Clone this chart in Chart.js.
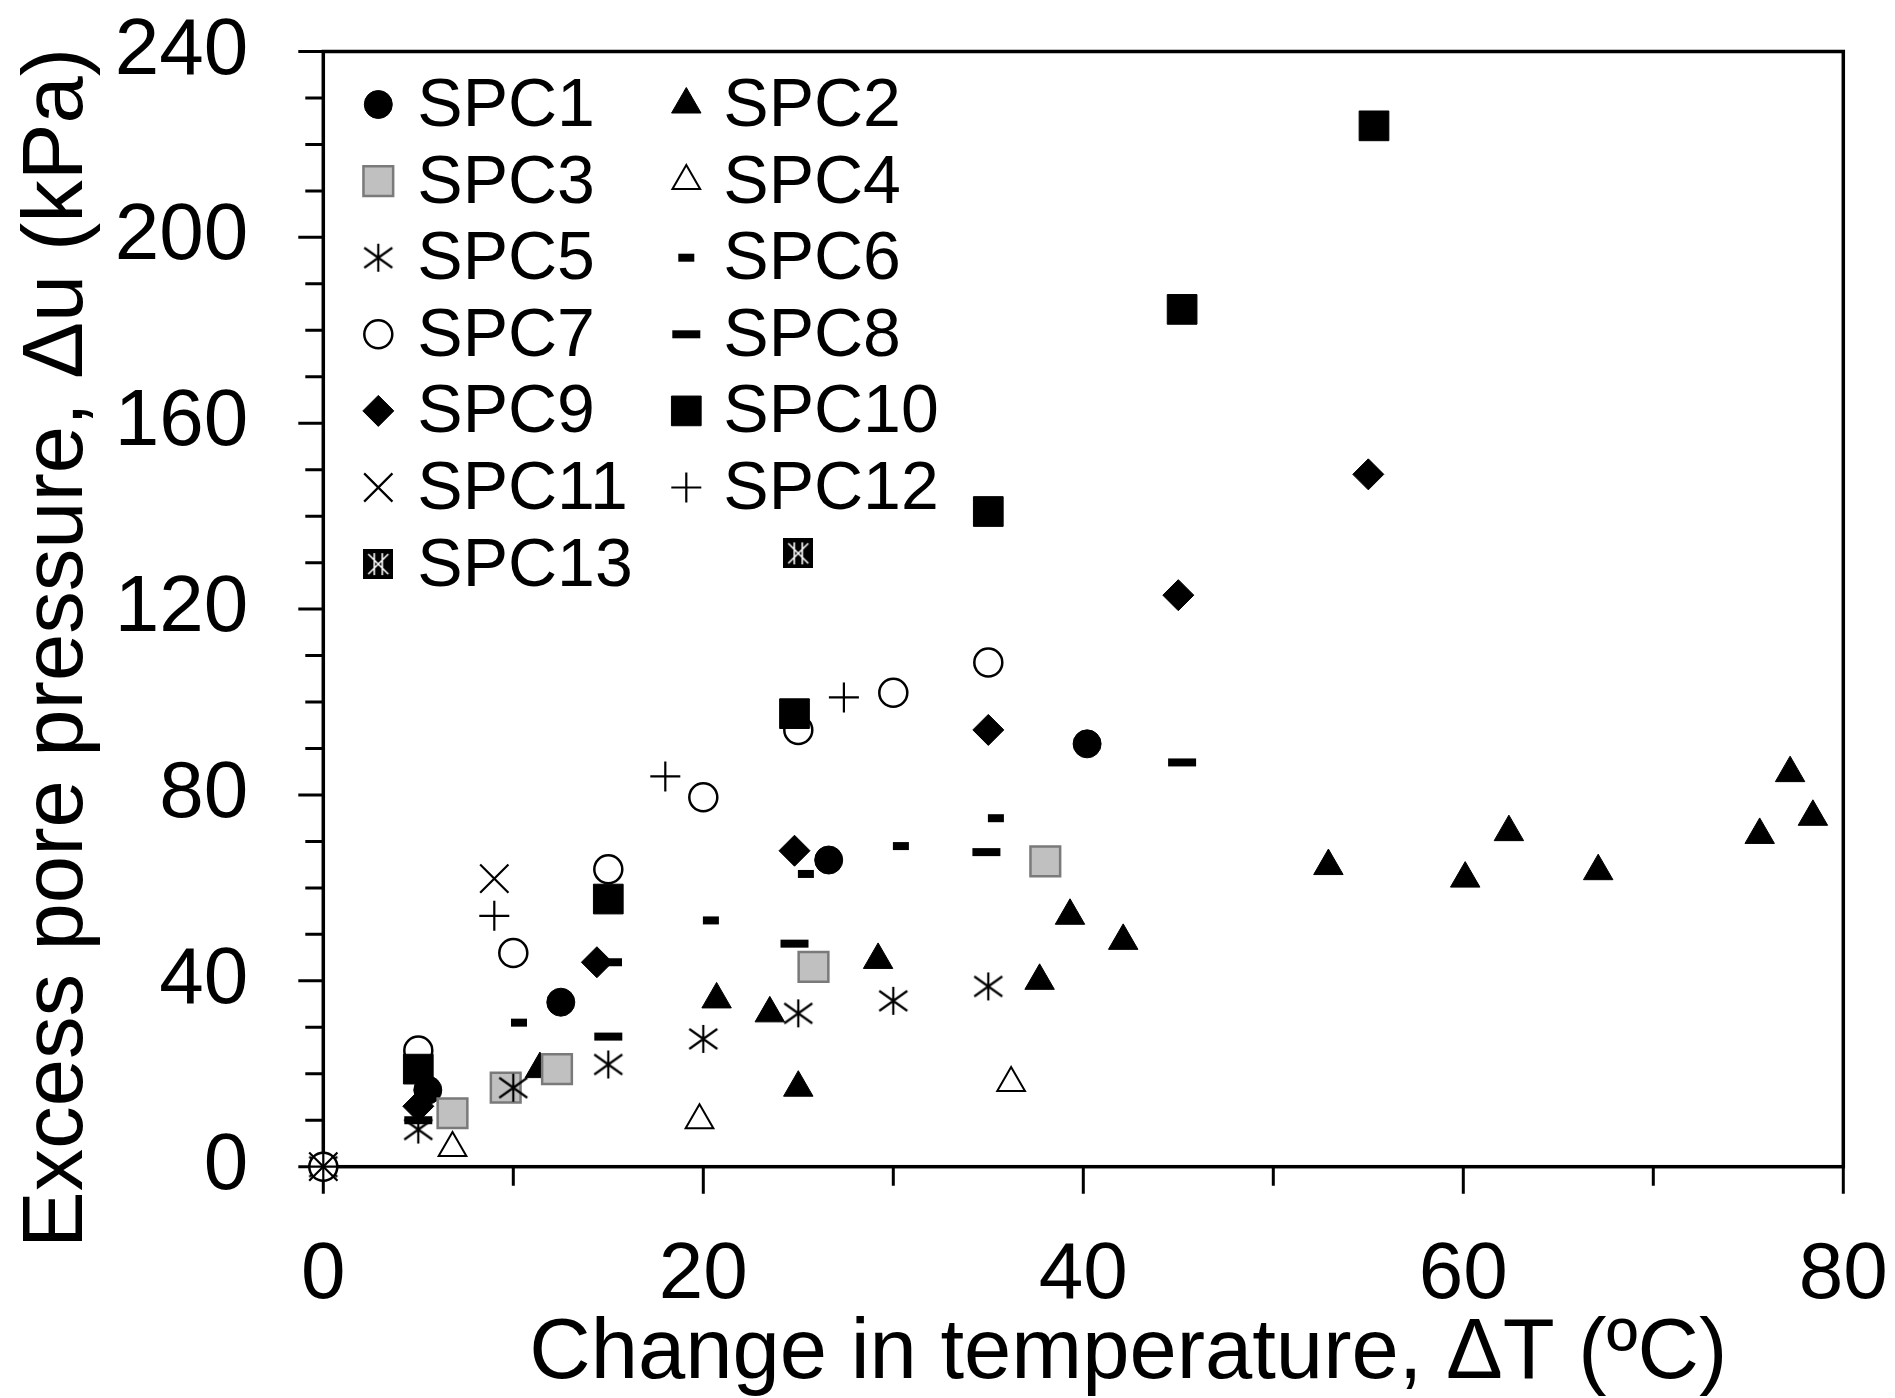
<!DOCTYPE html>
<html>
<head>
<meta charset="utf-8">
<title>Excess pore pressure vs change in temperature</title>
<script src="https://cdn.jsdelivr.net/npm/chart.js"></script>
<style>
  html, body { margin: 0; padding: 0; background: #fff; }
</style>
</head>
<body>
<canvas id="porePressure" width="1895" height="1398"></canvas>
<script>
// Excess pore pressure (kPa) against change in temperature (ºC), specimens SPC1..SPC13

const seriesNames = ['SPC1', 'SPC2', 'SPC3', 'SPC4', 'SPC5', 'SPC6', 'SPC7',
                     'SPC8', 'SPC9', 'SPC10', 'SPC11', 'SPC12', 'SPC13'];

const spc1dT = [5.5, 12.5, 26.6, 40.2];
const spc1dU = [16.5, 35.4, 66, 91];
const spc2dT = [11.4, 20.7, 23.5, 25, 29.2, 37.7, 39.3, 42.1, 52.9, 60.1, 62.4, 67.1, 75.6, 77.2, 78.4];
const spc2dU = [21, 36, 33, 17, 44.5, 40, 54, 48.6, 64.7, 62, 72, 63.6, 71.4, 84.7, 75.3];
const spc3dT = [6.8, 9.6, 12.3, 25.8, 38];
const spc3dU = [11.5, 17, 21, 43, 65.7];
const spc4dT = [6.8, 19.8, 36.2];
const spc4dU = [4, 10, 18];
const spc5dT = [0, 5, 10, 15, 20, 25, 30, 35];
const spc5dU = [0, 8, 17, 22, 27.5, 33, 35.7, 38.8];
const spc6dT = [10.3, 15.3, 20.4, 25.4, 30.4, 35.4];
const spc6dU = [31, 44, 53, 63, 69, 75];
const spc7dT = [0, 5, 10, 15, 20, 25, 30, 35];
const spc7dU = [0, 25, 46, 64, 79.5, 94, 102, 108.5];
const spc8dT = [5, 15, 24.8, 34.9, 45.2];
const spc8dU = [10, 28, 48, 67.7, 87];
const spc9dT = [5, 14.4, 24.8, 35, 45, 55];
const spc9dU = [13, 44, 68, 94, 123, 149];
const spc10dT = [5, 15, 24.8, 35, 45.2, 55.3];
const spc10dU = [21, 57.6, 97.5, 141, 184.5, 224];
const spc11dT = [0, 9];
const spc11dU = [0, 62];
const spc12dT = [0, 9, 18, 27.4];
const spc12dU = [0, 54, 84, 101];
const spc13dT = [25];
const spc13dU = [132];

const xTickLabels = [0, 20, 40, 60, 80];
const yTickLabels = [0, 40, 80, 120, 160, 200, 240];

const FONT = '"Liberation Sans", Arial, Helvetica, sans-serif';
Chart.defaults.font.family = FONT;
Chart.defaults.color = '#000';

// marker images that chart.js has no built-in style for
function asteriskMarker() {
  const c = document.createElement('canvas');
  c.width = c.height = 32;
  const g = c.getContext('2d');
  g.strokeStyle = '#000';
  g.lineWidth = 2.2;
  g.beginPath();
  g.moveTo(16, 2); g.lineTo(16, 30);
  g.moveTo(2, 6); g.lineTo(30, 26);
  g.moveTo(2, 26); g.lineTo(30, 6);
  g.stroke();
  return c;
}

function starBoxMarker() {
  const c = document.createElement('canvas');
  c.width = c.height = 30;
  const g = c.getContext('2d');
  g.fillStyle = '#000';
  g.fillRect(0, 0, 30, 30);
  g.strokeStyle = '#fff';
  g.lineWidth = 1.6;
  g.beginPath();
  g.moveTo(5, 5); g.lineTo(25, 25);
  g.moveTo(25, 5); g.lineTo(5, 25);
  g.moveTo(11, 4); g.lineTo(11, 26);
  g.moveTo(19, 4); g.lineTo(19, 26);
  g.stroke();
  return c;
}

const markerStyles = [
  { style: 'circle',   r: 14,   bg: '#000', bc: '#000', bw: 1 },
  { style: 'triangle', r: 17,   bg: '#000', bc: '#000', bw: 1 },
  { style: 'rect',     r: 21,   bg: '#c0c0c0', bc: '#7a7a7a', bw: 2.5 },
  { style: 'triangle', r: 16,   bg: '#fff', bc: '#000', bw: 2 },
  { style: asteriskMarker(), r: 15, bg: '#000', bc: '#000', bw: 0 },
  { style: 'line',     r: 8,    bg: '#000', bc: '#000', bw: 8 },
  { style: 'circle',   r: 14,   bg: '#fff', bc: '#000', bw: 2.5 },
  { style: 'line',     r: 14,   bg: '#000', bc: '#000', bw: 8 },
  { style: 'rectRot',  r: 15.5, bg: '#000', bc: '#000', bw: 1 },
  { style: 'rect',     r: 21,   bg: '#000', bc: '#000', bw: 1 },
  { style: 'crossRot', r: 20,   bg: '#000', bc: '#000', bw: 2.2 },
  { style: 'cross',    r: 15,   bg: '#000', bc: '#000', bw: 2.2 },
  { style: starBoxMarker(), r: 15, bg: '#000', bc: '#000', bw: 0 }
];

const seriesData = [
  [spc1dT, spc1dU], [spc2dT, spc2dU], [spc3dT, spc3dU], [spc4dT, spc4dU],
  [spc5dT, spc5dU], [spc6dT, spc6dU], [spc7dT, spc7dU], [spc8dT, spc8dU],
  [spc9dT, spc9dU], [spc10dT, spc10dU], [spc11dT, spc11dU], [spc12dT, spc12dU],
  [spc13dT, spc13dU]
];

const datasets = seriesData.map(([xs, ys], i) => {
  const m = markerStyles[i];
  return {
    label: seriesNames[i],
    data: xs.map((v, k) => ({ x: v, y: ys[k] })),
    showLine: false,
    clip: false,
    order: -i,   // later series on top, like the original
    pointStyle: m.style,
    pointRadius: m.r,
    pointHoverRadius: m.r,
    pointBackgroundColor: m.bg,
    pointBorderColor: m.bc,
    pointBorderWidth: m.bw
  };
});

// axis box, tick marks (long major, short minor) and axis titles
const axisFrame = {
  id: 'axisFrame',
  beforeDatasetsDraw(chart) {
    const { ctx, chartArea: a, scales: { x, y } } = chart;
    ctx.save();
    ctx.strokeStyle = '#000';
    ctx.lineWidth = 3;
    ctx.beginPath();
    x.ticks.forEach(t => {
      const px = x.getPixelForValue(t.value);
      const len = xTickLabels.includes(t.value) ? 27 : 19;
      ctx.moveTo(px, a.bottom);
      ctx.lineTo(px, a.bottom + len);
    });
    y.ticks.forEach(t => {
      const py = y.getPixelForValue(t.value);
      const len = yTickLabels.includes(t.value) ? 25 : 18;
      ctx.moveTo(a.left - len, py);
      ctx.lineTo(a.left, py);
    });
    ctx.stroke();
    ctx.lineWidth = 3.5;
    ctx.strokeRect(a.left, a.top, a.right - a.left, a.bottom - a.top);

    ctx.fillStyle = '#000';
    ctx.font = '85px ' + FONT;
    ctx.textAlign = 'center';
    ctx.textBaseline = 'alphabetic';
    ctx.fillText('Change in temperature, ΔT (ºC)', a.left + 805, a.bottom + 211.5);
    ctx.translate(a.left - 241.5, a.top + 596.5);
    ctx.rotate(-Math.PI / 2);
    ctx.fillText('Excess pore pressure, Δu (kPa)', 0, 0);
    ctx.restore();
  }
};

// two-column legend inside the plot, top left
const insideLegend = {
  id: 'insideLegend',
  afterDraw(chart) {
    const { ctx, chartArea: a } = chart;
    ctx.save();
    ctx.font = '68px ' + FONT;
    ctx.textAlign = 'left';
    ctx.textBaseline = 'alphabetic';
    chart.data.datasets.forEach((ds, i) => {
      const col = i % 2;
      const row = Math.floor(i / 2);
      const mx = a.left + (col ? 363 : 55);
      const my = a.top + 53 + row * 76.6;
      ctx.save();
      ctx.fillStyle = ds.pointBackgroundColor;
      ctx.strokeStyle = ds.pointBorderColor;
      ctx.lineWidth = ds.pointBorderWidth;
      Chart.helpers.drawPoint(ctx, {
        pointStyle: ds.pointStyle, radius: ds.pointRadius,
        rotation: 0, borderWidth: ds.pointBorderWidth
      }, mx, my);
      ctx.restore();
      ctx.fillStyle = '#000';
      ctx.fillText(ds.label, mx + (col ? 37 : 39), my + 21.5);
    });
    ctx.restore();
  }
};

new Chart(document.getElementById('porePressure'), {
  type: 'scatter',
  data: { datasets },
  options: {
    responsive: false,
    animation: false,
    events: [],
    layout: { padding: { top: 51.5, right: 51.7, bottom: 0, left: 0 } },
    plugins: {
      legend: { display: false },
      tooltip: { enabled: false }
    },
    scales: {
      x: {
        type: 'linear',
        min: 0,
        max: 80,
        afterFit(scale) {
          scale.height = 231.3;
          scale.paddingLeft = 0;
          scale.paddingRight = 0;
        },
        grid: { display: false, drawTicks: false },
        border: { display: false },
        ticks: {
          stepSize: 10,
          autoSkip: false,
          maxRotation: 0,
          padding: 61,
          color: '#000',
          font: { size: 80 },
          callback: v => xTickLabels.includes(v) ? v : ''
        }
      },
      y: {
        type: 'linear',
        min: 0,
        max: 240,
        afterFit(scale) {
          scale.width = 323.3;
          scale.paddingTop = 0;
          scale.paddingBottom = 0;
        },
        grid: { display: false, drawTicks: false },
        border: { display: false },
        ticks: {
          stepSize: 10,
          autoSkip: false,
          padding: 75,
          color: '#000',
          font: { size: 80 },
          callback: v => yTickLabels.includes(v) ? v : ''
        }
      }
    }
  },
  plugins: [axisFrame, insideLegend]
});
</script>
</body>
</html>
